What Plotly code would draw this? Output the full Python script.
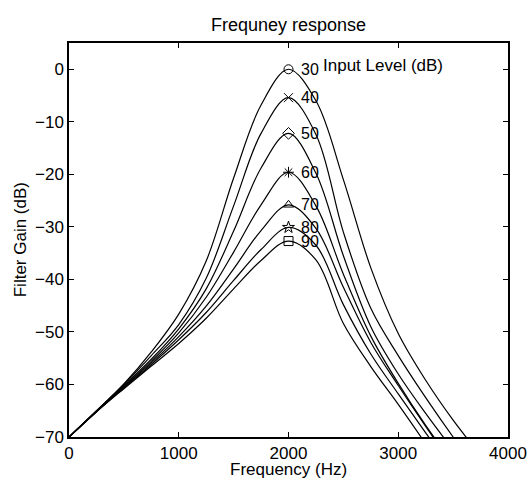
import plotly.graph_objects as go

# frequency grid (Hz) and filter gain (dB), one list per input level
freq = [0, 250, 500, 750, 1000, 1250, 1500, 1750, 2000, 2250, 2500, 2750, 3000, 3250, 3500, 3750, 4000]

gain_30 = [-70, -65.0, -59.9, -53.8, -46.6, -36.5, -20.7, -6.8, 0.0, -6.0, -21.0, -37.8, -50.3, -59.2, -66.8, -73.5, -80.0]
gain_40 = [-70, -65.05, -60.0, -54.5, -48.6, -39.8, -26.0, -12.2, -5.4, -12.4, -31.0, -45.5, -54.5, -62.5, -70.0, -77.0, -84.0]
gain_50 = [-70, -65.1, -60.2, -55.2, -49.4, -41.8, -30.8, -18.8, -12.2, -19.8, -35.5, -49.0, -58.0, -65.5, -72.5, -79.5, -86.0]
gain_60 = [-70, -65.15, -60.4, -55.6, -50.2, -43.4, -34.8, -25.8, -19.6, -26.0, -39.0, -50.8, -59.8, -67.8, -75.0, -82.0, -89.0]
gain_70 = [-70, -65.2, -60.5, -55.9, -50.9, -45.1, -38.0, -30.7, -25.8, -30.3, -41.5, -52.0, -60.2, -68.0, -75.5, -83.0, -90.0]
gain_80 = [-70, -65.2, -60.7, -56.2, -51.5, -46.3, -40.2, -34.3, -30.1, -33.5, -44.8, -54.2, -61.8, -69.2, -76.5, -84.0, -91.0]
gain_90 = [-70, -65.2, -60.8, -56.5, -52.2, -47.4, -41.8, -36.4, -32.7, -36.3, -48.4, -56.6, -63.8, -71.3, -79.0, -86.5, -94.0]

levels = ["30", "40", "50", "60", "70", "80", "90"]
gains = [gain_30, gain_40, gain_50, gain_60, gain_70, gain_80, gain_90]
symbols = ["circle-open", "x-thin-open", "diamond-open", "asterisk-open",
           "triangle-up-open", "star-open", "square-open"]

FONT = "Liberation Sans, Arial, sans-serif"

fig = go.Figure()

for lev, g, sym in zip(levels, gains, symbols):
    fig.add_trace(go.Scatter(x=freq, y=g, mode="lines", line=dict(color="black", width=1.2, shape="spline"),
                             showlegend=False, hoverinfo="skip"))
    i = g.index(max(g))
    fig.add_trace(go.Scatter(x=[freq[i]], y=[g[i]], mode="markers",
                             marker=dict(symbol=sym, size=9, color="black", line=dict(color="black", width=1)),
                             showlegend=False))
    fig.add_annotation(x=freq[i], y=g[i], text=lev, showarrow=False, xanchor="left",
                       xshift=10, font=dict(size=16, color="black", family=FONT))

fig.add_annotation(x=2295, y=0.8, text="Input Level (dB)", showarrow=False, xanchor="left",
                   font=dict(size=17, color="black", family=FONT))

# axis titles placed by hand (standoff is ignored without automargin)
fig.add_annotation(xref="paper", yref="paper", x=0.5, y=-0.083, yanchor="middle",
                   text="Frequency (Hz)", showarrow=False,
                   font=dict(size=17, color="black", family=FONT))
fig.add_annotation(xref="paper", yref="paper", x=-0.111, y=0.5, xanchor="center",
                   text="Filter Gain (dB)", textangle=-90, showarrow=False,
                   font=dict(size=17, color="black", family=FONT))

fig.update_layout(
    width=532, height=479,
    margin=dict(l=69, r=24, t=43, b=42),
    paper_bgcolor="white", plot_bgcolor="white",
    font=dict(family=FONT, size=17, color="black"),
    title=dict(text="Frequney response", xref="paper", x=0.5, xanchor="center", y=0.948, yanchor="middle",
               font=dict(size=18)),
)
fig.update_xaxes(range=[0, 4000], tickvals=[0, 1000, 2000, 3000, 4000], automargin=False,
                 showline=True, linecolor="black", linewidth=1.5, mirror="ticks",
                 ticks="inside", ticklen=5, tickcolor="black", showgrid=False, zeroline=False)
fig.update_yaxes(range=[-70, 5], tickvals=[0, -10, -20, -30, -40, -50, -60, -70], automargin=False,
                 showline=True, linecolor="black", linewidth=1.5, mirror="ticks",
                 ticks="inside", ticklen=5, tickcolor="black", showgrid=False, zeroline=False)

# page body has a default 8px margin, drop it so the figure sits at the window corner
fig.write_html("out.html", config={"displayModeBar": False},
               post_script="document.body.style.margin='0';")
